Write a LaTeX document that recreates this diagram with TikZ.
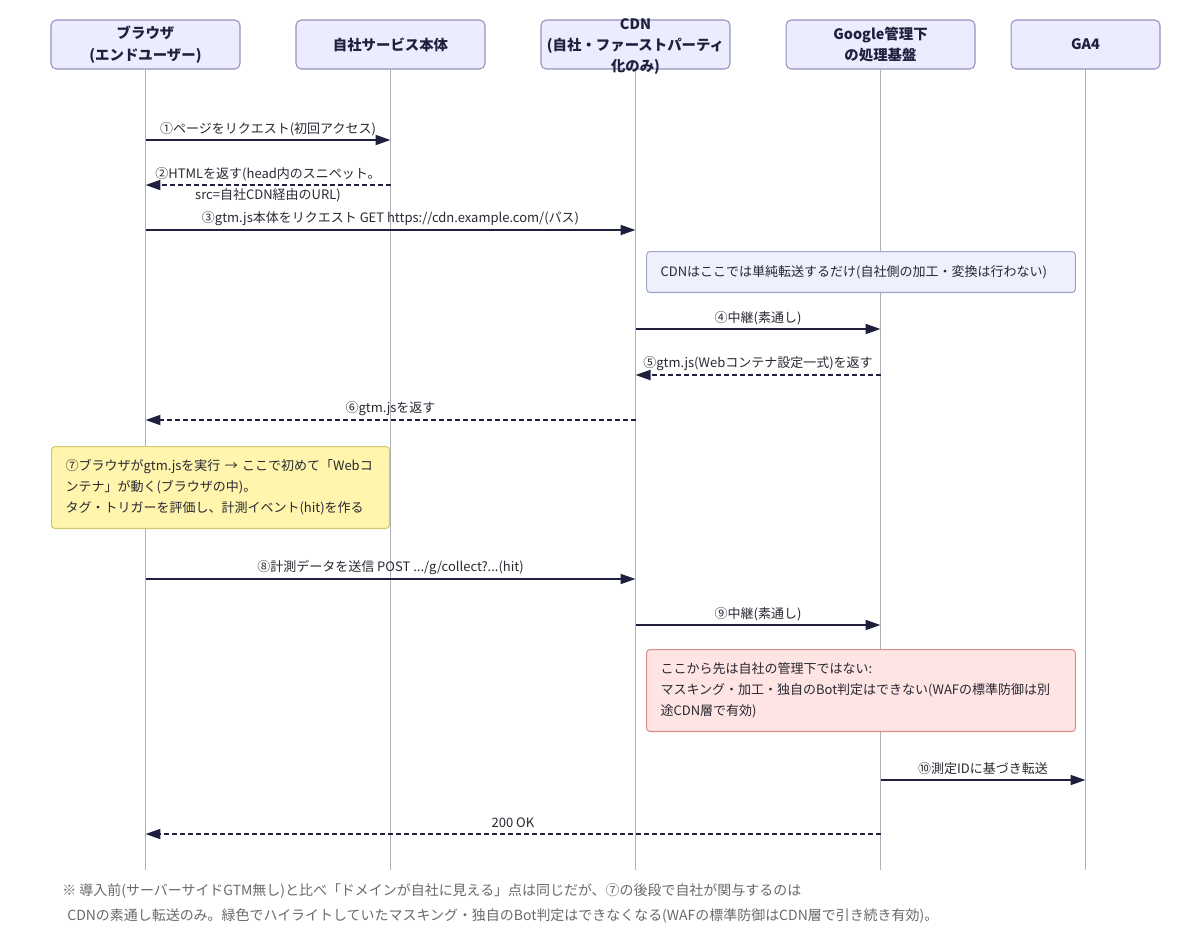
\documentclass[tikz,border=0pt]{standalone}
\usepackage{fontspec}
\setmainfont{Noto Sans CJK JP}
\usepackage{xcolor}
\usepackage{tikz}
\usetikzlibrary{positioning, calc, arrows.meta}
\definecolor{actorfill}{RGB}{236,236,255}
\definecolor{actorline}{RGB}{150,144,190}
\definecolor{lifegray}{RGB}{175,175,185}
\definecolor{signal}{RGB}{30,32,62}
\definecolor{textc}{RGB}{40,40,50}
\definecolor{noteblue}{RGB}{238,240,252}
\definecolor{noteblueline}{RGB}{160,165,200}
\definecolor{noteyellow}{RGB}{255,245,173}
\definecolor{noteyellowline}{RGB}{210,200,110}
\definecolor{notepink}{RGB}{255,228,228}
\definecolor{notepinkline}{RGB}{225,140,140}
\definecolor{footgray}{RGB}{105,105,110}

\begin{document}
\begin{tikzpicture}[x=0.02cm, y=-0.02cm]
		%%	participants and lifelines
		\tikzstyle{actor}=[draw=actorline, fill=actorfill, rounded corners=3pt, minimum width=3.78cm, minimum height=0.98cm, line width=0.6pt]
		\tikzstyle{actortext}=[align=center, text=signal, font=\fontsize{8.2}{12.2}\selectfont\bfseries]
		\tikzstyle{life}=[draw=lifegray, line width=0.6pt]
		\tikzstyle{msg}=[draw=signal, line width=1.1pt, -{Triangle[length=0.3cm, width=0.2cm]}]
		\tikzstyle{reply}=[msg, dash pattern=on 0.1cm off 0.06cm]
		\tikzstyle{msglabel}=[midway, yshift=0.22cm, text=textc, font=\fontsize{7.4}{12}\selectfont]
		\tikzstyle{note}=[anchor=north west, rounded corners=2pt, line width=0.6pt, align=left, inner xsep=0.28cm, text=textc, font=\fontsize{7.4}{12}\selectfont]
		
		\useasboundingbox (0,0) rectangle (1200,930);
		\coordinate (bot) at (0,870);
		
		\node [actor] (P1) at (145.5,44.5) {};
		\node [actor] (P2) at (390.5,44.5) {};
		\node [actor] (P3) at (635.5,44.5) {};
		\node [actor] (P4) at (880.5,44.5) {};
		\node [actor, minimum width=2.98cm] (P5) at (1085.5,44.5) {};
		\foreach \n in {1,...,5}
		\draw [life] (P\n) -- (P\n |- bot);
		
		\node [actortext] (P1t) at (P1) {ブラウザ\\(エンドユーザー)};
		\node [actortext] (P2t) at (P2) {自社サービス本体};
		\node [actortext] (P3t) at (635.5,46.5) {CDN\\(自社・ファーストパーティ\\化のみ)};
		\node [actortext] (P4t) at (P4) {Google管理下\\の処理基盤};
		\node [actortext] (P5t) at (P5) {GA4};
		
		%%	message levels
		\foreach \n/\y in {1/140,2/185,3/230,4/329,5/375,6/420,7/579,8/625,9/780,10/834}
		\coordinate (y\n) at (0,\y);
		
		\draw [msg] (P1 |- y1) -- (P2 |- y1) node [msglabel] (m1) {①ページをリクエスト(初回アクセス)};
		\draw [reply] (P2 |- y2) -- (P1 |- y2) node [msglabel, yshift=-0.21cm, align=center] (m2) {②HTMLを返す(head内のスニペット。\\src=自社CDN経由のURL)};
		\draw [msg] (P1 |- y3) -- (P3 |- y3) node [msglabel] (m3) {③gtm.js本体をリクエスト GET https://cdn.example.com/(パス)};
		
		\node [note, draw=noteblueline, fill=noteblue, minimum width=8.58cm, minimum height=0.82cm, text width=8.02cm] (N1) at (646,251) {CDNはここでは単純転送するだけ(自社側の加工・変換は行わない)};
		
		\draw [msg] (P3 |- y4) -- (P4 |- y4) node [msglabel] (m4) {④中継(素通し)};
		\draw [reply] (P4 |- y5) -- (P3 |- y5) node [msglabel] (m5) {⑤gtm.js(Webコンテナ設定一式)を返す};
		\draw [reply] (P3 |- y6) -- (P1 |- y6) node [msglabel] (m6) {⑥gtm.jsを返す};
		
		\node [note, draw=noteyellowline, fill=noteyellow, minimum width=6.76cm, minimum height=1.64cm, text width=6.2cm] (N2) at (51,446) {⑦ブラウザがgtm.jsを実行 → ここで初めて「Webコ\\ンテナ」が動く(ブラウザの中)。\\タグ・トリガーを評価し、計測イベント(hit)を作る};
		
		\draw [msg] (P1 |- y7) -- (P3 |- y7) node [msglabel] (m7) {⑧計測データを送信 POST .../g/collect?...(hit)};
		\draw [msg] (P3 |- y8) -- (P4 |- y8) node [msglabel] (m8) {⑨中継(素通し)};
		
		\node [note, draw=notepinkline, fill=notepink, minimum width=8.58cm, minimum height=1.64cm, text width=8.02cm] (N3) at (646,649) {ここから先は自社の管理下ではない:\\マスキング・加工・独自のBot判定はできない(WAFの標準防御は別\\途CDN層で有効)};
		
		\draw [msg] (P4 |- y9) -- (P5 |- y9) node [msglabel] (m9) {⑩測定IDに基づき転送};
		\draw [reply] (P4 |- y10) -- (P1 |- y10) node [msglabel] (m10) {200 OK};
		
		%%	footnote
		\node [anchor=west, align=left, inner sep=0pt, text=footgray, font=\fontsize{7.95}{14.2}\selectfont] (F) at (62,903) {※ 導入前(サーバーサイドGTM無し)と比べ「ドメインが自社に見える」点は同じだが、⑦の後段で自社が関与するのは\\\hspace*{0.1cm}CDNの素通し転送のみ。緑色でハイライトしていたマスキング・独自のBot判定はできなくなる(WAFの標準防御はCDN層で引き続き有効)。};
		
\end{tikzpicture}
\end{document}
